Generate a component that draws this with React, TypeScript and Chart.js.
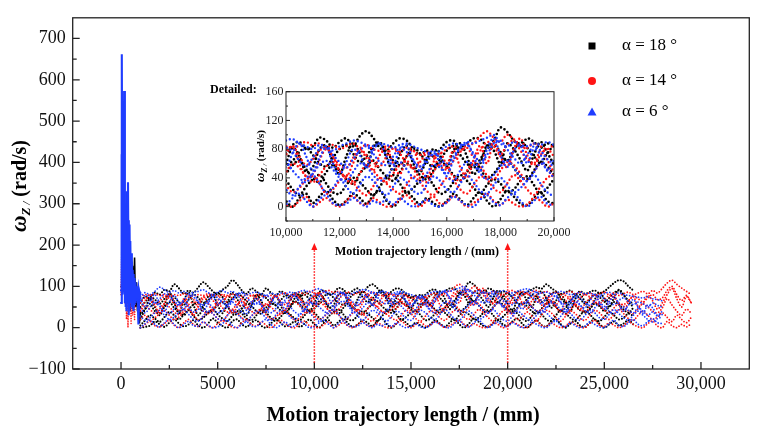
import { useEffect, useRef } from 'react'
import { Chart, registerables } from 'chart.js'

Chart.register(...registerables)

const FONT = "'Liberation Serif', 'Times New Roman', serif"

const X_TICKS = [0, 5000, 10000, 15000, 20000, 25000, 30000]
const X_MINOR = [2500, 7500, 12500, 17500, 22500, 27500]
const Y_TICKS = [-100, 0, 100, 200, 300, 400, 500, 600, 700]
const Y_MINOR = [-50, 50, 150, 250, 350, 450, 550, 650]
const INSET_X_TICKS = [10000, 12000, 14000, 16000, 18000, 20000]
const INSET_X_MINOR = [11000, 13000, 15000, 17000, 19000]
const INSET_Y_TICKS = [0, 40, 80, 120, 160]
const INSET_Y_MINOR = [-20, 20, 60, 100, 140]

const LABELS = ['α = 18 °', 'α = 14 °', 'α = 6 °']
const COLORS = ['#000000', '#ff1414', '#1f3dff']

// red dotted arrows pointing at the zoomed window
const ARROW_X = [10000, 20000]
const ARROW_FROM = -85
const ARROW_TO = 205

// first metre of the trajectory
const SPIKE_X = [0, 40, 80, 120, 160, 200, 240, 280, 320, 360, 400, 440, 480, 520, 560, 600, 650, 700, 750, 800, 850, 900, 950, 1000]
const SPIKE_BLACK = [100, 150, 120, 170, 140, 190, 110, 160, 60, 150, 90, 130, 40, 120, 70, 150, 60, 170, 50, 110, 40, 90, 10, 40]
const SPIKE_RED = [80, 200, 570, 100, 326, 60, 250, 20, 150, 0, 180, 40, 120, 10, 90, 30, 70, 20, 80, 75, 60, 80, 70, 75]
const SPIKE_BLUE = [60, 662, 80, 120, 573, 60, 300, 40, 200, 352, 30, 250, 60, 180, 50, 140, 40, 120, 60, 100, 70, 95, 75, 85]
const SPIKE_BLUE_2 = [90, 420, 150, 500, 90, 280, 50, 330, 120, 60, 260, 40, 210, 70, 160, 45, 130, 55, 110, 65, 90, 8, 88, 80]

// steady part, one value every 250 mm from 1000 mm
const START = 1000
const STEP = 250

const BLACK_A = [60, 75, 70, 85, 80, 92, 88, 105, 95, 82, 90, 85, 98, 110, 100, 88, 80, 92, 100, 115, 105, 90, 82, 95, 88, 80, 95, 85, 78, 88, 82, 76, 84, 78, 86, 80, 74, 86, 90, 80, 84, 96, 92, 82, 90, 95, 84, 98, 105, 96, 82, 78, 88, 95, 92, 80, 72, 78, 70, 80, 90, 92, 80, 88, 95, 94, 85, 92, 110, 104, 92, 84, 95, 90, 82, 88, 84, 76, 88, 80, 86, 92, 98, 94, 105, 96, 88, 82, 86, 90, 80, 88, 82, 86, 90, 84, 88, 98, 108, 115, 112, 100, 90]
const BLACK_B = [50, 62, 75, 68, 58, 70, 82, 74, 62, 55, 68, 80, 72, 60, 66, 78, 85, 74, 62, 70, 82, 76, 64, 58, 70, 80, 72, 60, 55, 66, 78, 70, 62, 74, 80, 68, 58, 64, 76, 82, 72, 60, 56, 68, 80, 86, 74, 62, 70, 84, 88, 76, 64, 58, 70, 82, 74, 62, 56, 66, 78, 84, 72, 60, 54, 66, 80, 86, 76, 64, 78, 90, 82, 70, 62, 74, 84, 72, 60, 56, 68, 80, 74, 62, 70, 82, 86, 72, 60, 66, 78, 70, 58, 68, 80, 74, 62, 72, 84, 90, 78, 66, 58]
const BLACK_C = [30, 45, 58, 40, 35, 50, 62, 48, 38, 30, 44, 56, 60, 48, 36, 42, 55, 62, 50, 38, 32, 46, 58, 52, 40, 34, 48, 60, 54, 42, 36, 50, 62, 56, 44, 38, 46, 58, 64, 52, 40, 34, 48, 58, 50, 38, 32, 46, 56, 64, 52, 42, 36, 48, 60, 54, 44, 38, 50, 62, 56, 44, 36, 48, 60, 52, 40, 46, 58, 66, 54, 42, 38, 50, 62, 56, 44, 36, 48, 60, 52, 40, 34, 46, 58, 64, 50, 40, 48, 60, 54, 42, 36, 46, 58, 52, 40, 50, 62, 56, 44, 36, 48]
const BLACK_D = [5, 18, 30, 22, 14, 26, 38, 30, 20, 32, 42, 28, 18, 24, 36, 44, 32, 22, 16, 28, 40, 34, 22, 18, 30, 42, 36, 24, 16, 26, 38, 32, 22, 18, 30, 42, 36, 24, 16, 28, 38, 44, 32, 20, 18, 30, 40, 34, 24, 16, 28, 40, 44, 32, 20, 26, 36, 42, 30, 18, 22, 34, 44, 36, 26, 18, 30, 38, 32, 20, 24, 36, 42, 30, 18, 26, 38, 44, 34, 22, 16, 28, 40, 32, 20, 16, 30, 42, 34, 24, 18, 30, 40, 32, 20, 16, 26, 38, 30, 20, 24, 34, 28]
const BLACK_E = [0, 2, 5, 15, 8, 2, 12, 20, 10, 3, 8, 18, 5, 0, 10, 22, 12, 4, 0, 15, 20, 8, 2, 12, 18, 5, 0, 10, 22, 12, 3, 8, 15, 2, 10, 20, 8, 0, 12, 18, 5, 14, 22, 10, 2, 8, 18, 12, 4, 15, 22, 8, 0, 10, 20, 12, 3, 12, 5, 0, 8, 18, 10, 2, 12, 20, 8, 0, 10, 22, 14, 4, 2, 12, 20, 8, 5, 15, 22, 10, 0, 10, 18, 6, 3, 14, 20, 8, 0, 10, 16, 5, 2, 12, 20, 9, 0, 8, 15, 5, 10, 18, 8]
const BLACK_F = [20, 45, 70, 50, 30, 55, 80, 60, 35, 65, 85, 55, 30, 50, 75, 80, 55, 35, 60, 85, 70, 45, 30, 55, 80, 65, 40, 60, 78, 55, 35, 50, 72, 80, 55, 40, 60, 82, 70, 48, 55, 80, 85, 62, 45, 70, 88, 75, 55, 80, 90, 68, 50, 72, 85, 60, 48, 65, 80, 70, 55, 78, 88, 70, 45, 60, 85, 78, 60, 88, 80, 65, 50, 72, 90, 75, 58, 40, 70, 85, 65, 50, 75, 88, 70, 48, 65, 82, 60, 40, 70, 80, 62, 45, 68, 85, 70, 50, 72, 92, 80, 62, 50]

const RED_A = [75, 80, 78, 82, 78, 80, 76, 80, 78, 82, 79, 77, 80, 78, 82, 79, 77, 80, 78, 81, 79, 76, 80, 78, 80, 77, 75, 78, 76, 80, 84, 78, 82, 86, 80, 88, 84, 80, 86, 90, 85, 88, 82, 86, 80, 84, 88, 82, 86, 80, 78, 84, 80, 76, 82, 78, 72, 76, 70, 74, 80, 84, 78, 86, 88, 98, 105, 96, 90, 100, 94, 85, 82, 88, 84, 80, 86, 90, 84, 88, 80, 86, 90, 84, 88, 82, 86, 80, 84, 88, 82, 86, 80, 84, 78, 82, 86, 80, 84, 78, 82, 86, 80, 84, 88, 82, 90, 84, 95, 108, 115, 105, 96, 88, 80]
const RED_B = [60, 72, 66, 56, 64, 76, 70, 58, 52, 62, 74, 68, 58, 70, 78, 66, 54, 64, 76, 72, 60, 52, 66, 78, 70, 58, 54, 68, 76, 64, 56, 70, 80, 72, 60, 66, 78, 84, 70, 58, 66, 78, 82, 70, 58, 54, 68, 80, 72, 62, 56, 70, 82, 74, 60, 54, 62, 74, 68, 56, 52, 64, 76, 82, 70, 78, 90, 84, 72, 86, 92, 78, 66, 58, 72, 80, 70, 60, 66, 78, 84, 72, 62, 68, 76, 64, 56, 70, 78, 68, 60, 72, 80, 74, 62, 58, 68, 78, 72, 60, 56, 66, 76, 70, 62, 72, 80, 68, 72, 90, 100, 80, 66, 78, 60]
const RED_C = [40, 52, 44, 34, 46, 58, 50, 38, 32, 44, 56, 62, 50, 40, 34, 46, 58, 48, 38, 44, 56, 64, 52, 40, 34, 46, 58, 50, 40, 32, 44, 56, 62, 52, 40, 36, 48, 60, 54, 42, 34, 44, 56, 62, 50, 38, 32, 46, 58, 50, 40, 34, 46, 58, 64, 52, 40, 34, 48, 60, 54, 42, 36, 50, 62, 56, 44, 38, 50, 62, 58, 46, 36, 48, 60, 52, 40, 34, 46, 58, 64, 52, 40, 44, 56, 62, 50, 38, 32, 44, 56, 48, 38, 50, 62, 54, 42, 36, 48, 58, 52, 40, 34, 46, 58, 50, 40, 36, 48, 70, 55, 40, 30, 45, 35]
const RED_D = [20, 30, 16, 24, 34, 42, 30, 20, 26, 38, 44, 32, 18, 28, 40, 34, 22, 16, 30, 42, 36, 24, 18, 28, 40, 44, 32, 20, 26, 36, 42, 30, 18, 24, 36, 44, 30, 20, 26, 38, 42, 32, 18, 24, 36, 44, 34, 22, 16, 28, 40, 32, 24, 18, 30, 42, 34, 22, 16, 28, 40, 36, 24, 18, 30, 42, 38, 26, 20, 32, 44, 36, 24, 16, 28, 40, 44, 32, 20, 26, 38, 28, 18, 30, 42, 36, 24, 16, 28, 40, 34, 22, 18, 30, 42, 36, 24, 20, 32, 44, 34, 22, 18, 30, 40, 30, 20, 26, 36, 25, 15, 30, 20, 12, 25]
const RED_E = [0, 8, 15, 5, 2, 10, 18, 6, 0, 12, 20, 8, 3, 14, 5, 0, 10, 18, 8, 2, 0, 12, 20, 8, 4, 15, 6, 0, 8, 18, 10, 2, 0, 10, 16, 5, 2, 0, 8, 14, 0, 6, 12, 4, 0, 8, 15, 5, 3, 12, 6, 0, 2, 10, 16, 6, 0, 8, 14, 4, 6, 15, 8, 0, 5, 12, 18, 8, 2, 10, 4, 0, 3, 12, 8, 0, 5, 14, 8, 2, 0, 10, 16, 6, 2, 12, 5, 0, 4, 14, 8, 2, 0, 10, 18, 6, 3, 12, 6, 0, 5, 14, 8, 2, 0, 10, 16, 4, 0, 15, 5, 0, 8, 2, 10]
const RED_F = [40, 65, 80, 55, 35, 60, 82, 65, 40, 70, 50, 30, 55, 75, 60, 40, 65, 80, 58, 35, 50, 72, 45, 60, 75, 55, 40, 62, 78, 60, 42, 65, 80, 70, 50, 60, 72, 85, 60, 42, 45, 65, 80, 70, 50, 42, 60, 78, 68, 50, 72, 80, 60, 45, 70, 78, 55, 40, 62, 75, 60, 78, 55, 40, 65, 85, 60, 90, 70, 55, 80, 95, 72, 60, 78, 65, 50, 70, 82, 60, 45, 65, 80, 55, 60, 78, 50, 40, 62, 75, 55, 42, 58, 72, 80, 60, 45, 65, 78, 55, 40, 62, 75, 52, 60, 78, 65, 45, 60, 80, 95, 70, 50, 75, 60]

const BLUE_A = [75, 85, 80, 88, 98, 92, 85, 90, 84, 88, 82, 86, 88, 92, 85, 80, 86, 90, 84, 88, 82, 86, 80, 84, 86, 82, 78, 84, 80, 84, 82, 86, 84, 88, 90, 86, 92, 94, 88, 84, 80, 86, 84, 78, 84, 88, 92, 90, 86, 84, 88, 86, 82, 86, 88, 84, 80, 76, 72, 78, 84, 88, 86, 90, 88, 92, 96, 100, 88, 84, 90, 86, 84, 88, 86, 90, 86, 84, 88, 92, 94, 90, 86, 84, 86, 82, 84, 88, 84, 80, 82, 86, 82, 84, 80, 78, 82, 86, 80, 84, 80, 78, 76, 74, 72, 75, 70, 68, 65]
const BLUE_B = [66, 78, 72, 60, 70, 82, 76, 64, 56, 68, 80, 74, 62, 54, 66, 78, 72, 60, 56, 68, 76, 84, 72, 62, 58, 66, 78, 70, 60, 56, 68, 80, 74, 64, 58, 70, 82, 76, 64, 56, 68, 80, 84, 72, 62, 54, 66, 78, 84, 74, 62, 58, 70, 82, 76, 64, 56, 62, 74, 68, 58, 70, 82, 86, 74, 62, 72, 88, 92, 80, 68, 60, 72, 84, 78, 66, 60, 56, 70, 82, 88, 76, 64, 58, 70, 80, 74, 62, 56, 66, 78, 72, 60, 54, 64, 76, 70, 60, 56, 66, 72, 64, 56, 62, 58, 50, 60, 54, 50]
const BLUE_C = [46, 36, 50, 60, 52, 40, 34, 46, 58, 62, 50, 38, 44, 56, 60, 48, 36, 42, 54, 62, 50, 38, 34, 48, 60, 54, 42, 36, 46, 58, 62, 50, 38, 32, 44, 56, 62, 50, 40, 34, 46, 58, 64, 52, 40, 36, 48, 60, 56, 44, 36, 42, 54, 62, 52, 40, 34, 46, 58, 54, 42, 36, 50, 62, 58, 46, 38, 44, 56, 64, 54, 42, 36, 48, 60, 52, 40, 34, 46, 58, 62, 50, 40, 36, 48, 60, 56, 44, 38, 50, 62, 54, 42, 36, 48, 58, 52, 40, 34, 44, 50, 42, 36, 48, 40, 30, 38, 28, 32]
const BLUE_D = [28, 18, 24, 36, 42, 30, 20, 26, 38, 44, 32, 20, 16, 28, 40, 34, 22, 18, 30, 42, 34, 22, 16, 28, 40, 36, 24, 18, 30, 42, 38, 26, 20, 32, 44, 36, 24, 16, 28, 40, 44, 32, 20, 26, 38, 28, 18, 30, 42, 36, 24, 16, 28, 40, 34, 22, 18, 30, 42, 36, 24, 20, 32, 44, 34, 22, 18, 30, 40, 30, 20, 26, 36, 44, 32, 20, 16, 28, 40, 32, 22, 18, 30, 42, 36, 24, 16, 28, 40, 34, 22, 18, 30, 42, 36, 24, 20, 32, 44, 34, 24, 18, 30, 40, 30, 20, 14, 22, 26]
const BLUE_E = [0, 10, 18, 8, 2, 12, 20, 8, 0, 8, 15, 5, 4, 14, 6, 0, 2, 10, 18, 6, 0, 8, 14, 4, 3, 12, 20, 8, 0, 6, 14, 2, 5, 15, 8, 0, 3, 12, 18, 8, 0, 10, 16, 5, 2, 4, 12, 6, 0, 8, 4, 10, 3, 12, 5, 0, 4, 10, 2, 0, 6, 14, 8, 2, 0, 10, 16, 6, 2, 12, 18, 8, 0, 8, 14, 4, 3, 12, 6, 0, 5, 14, 8, 2, 0, 10, 16, 6, 2, 12, 5, 0, 4, 14, 8, 2, 0, 10, 18, 6, 3, 12, 20, 8, 5, 15, 22, 12, 10]
const BLUE_F = [70, 50, 65, 80, 55, 40, 62, 78, 60, 45, 70, 82, 62, 40, 58, 75, 55, 70, 48, 65, 80, 60, 42, 58, 72, 55, 38, 60, 75, 62, 45, 68, 80, 58, 40, 62, 55, 75, 88, 70, 50, 68, 82, 60, 45, 62, 80, 72, 55, 78, 88, 70, 58, 80, 85, 65, 50, 68, 78, 60, 45, 65, 82, 88, 70, 50, 80, 95, 72, 55, 78, 85, 60, 80, 72, 50, 65, 80, 60, 45, 62, 78, 85, 65, 48, 65, 78, 60, 42, 60, 75, 55, 48, 65, 80, 62, 45, 62, 75, 58, 40, 55, 68, 50, 35, 55, 48, 30, 40]

const STRANDS = [
  [BLACK_A, BLACK_B, BLACK_C, BLACK_D, BLACK_E, BLACK_F],
  [RED_A, RED_B, RED_C, RED_D, RED_E, RED_F],
  [BLUE_A, BLUE_B, BLUE_C, BLUE_D, BLUE_E, BLUE_F],
]
const SPIKES = [[SPIKE_BLACK], [SPIKE_RED], [SPIKE_BLUE, SPIKE_BLUE_2]]

function onGrid(ys: number[]) {
  return ys.map((y, i) => ({ x: START + i * STEP, y }))
}

function makeDatasets(inset: boolean) {
  const sets: any[] = []
  STRANDS.forEach((group, s) => {
    group.forEach((ys) => {
      sets.push({
        data: onGrid(ys),
        borderColor: COLORS[s],
        borderWidth: inset ? (s === 0 ? 2.7 : 2.4) : s === 0 ? 2.1 : 1.8,
        borderDash: inset ? [0, 4] : [0, 3],
        borderCapStyle: 'round',
        pointRadius: 0,
        tension: 0.35,
        fill: false,
        order: 3 - s,
      })
    })
    if (!inset) {
      SPIKES[s].forEach((ys) => {
        sets.push({
          data: ys.map((y, i) => ({ x: SPIKE_X[i], y })),
          borderColor: COLORS[s],
          borderWidth: s === 2 ? 2.1 : 1.6,
          borderDash: s === 1 ? [0, 2.5] : [],
          borderCapStyle: 'round',
          pointRadius: 0,
          tension: 0,
          fill: false,
          order: 3 - s,
        })
      })
    }
  })
  return sets
}

type Part = { text: string; font: string; dy: number }

function drawRich(ctx: CanvasRenderingContext2D, parts: Part[], x: number, y: number, rotate: boolean) {
  ctx.save()
  ctx.translate(x, y)
  if (rotate) ctx.rotate(-Math.PI / 2)
  let total = 0
  for (const p of parts) {
    ctx.font = p.font
    total += ctx.measureText(p.text).width
  }
  let cx = -total / 2
  ctx.textAlign = 'left'
  ctx.textBaseline = 'alphabetic'
  ctx.fillStyle = '#000'
  for (const p of parts) {
    ctx.font = p.font
    ctx.fillText(p.text, cx, p.dy)
    cx += ctx.measureText(p.text).width
  }
  ctx.restore()
}

function drawFrame(chart: any, major: number, minor: number, xt: number[], xm: number[], yt: number[], ym: number[], lw: number) {
  const { ctx, chartArea, scales } = chart
  const { left, right, top, bottom } = chartArea
  ctx.save()
  ctx.strokeStyle = '#222'
  ctx.lineWidth = lw
  ctx.strokeRect(left, top, right - left, bottom - top)
  ctx.beginPath()
  xt.forEach((v) => {
    const px = scales.x.getPixelForValue(v)
    ctx.moveTo(px, bottom)
    ctx.lineTo(px, bottom - major)
  })
  xm.forEach((v) => {
    const px = scales.x.getPixelForValue(v)
    ctx.moveTo(px, bottom)
    ctx.lineTo(px, bottom - minor)
  })
  yt.forEach((v) => {
    const py = scales.y.getPixelForValue(v)
    ctx.moveTo(left, py)
    ctx.lineTo(left + major, py)
  })
  ym.forEach((v) => {
    const py = scales.y.getPixelForValue(v)
    ctx.moveTo(left, py)
    ctx.lineTo(left + minor, py)
  })
  ctx.stroke()
  ctx.restore()
}

const mainDecor = {
  id: 'mainDecor',
  afterDraw(chart: any) {
    const { ctx, scales } = chart
    drawFrame(chart, 7, 4, X_TICKS, X_MINOR, Y_TICKS, Y_MINOR, 1.3)

    // arrows
    ctx.save()
    ctx.strokeStyle = '#ff1414'
    ctx.fillStyle = '#ff1414'
    ctx.lineWidth = 1.5
    ARROW_X.forEach((v) => {
      const px = scales.x.getPixelForValue(v)
      const y0 = scales.y.getPixelForValue(ARROW_FROM)
      const y1 = scales.y.getPixelForValue(ARROW_TO)
      ctx.setLineDash([1.5, 1.5])
      ctx.beginPath()
      ctx.moveTo(px, y0)
      ctx.lineTo(px, y1 + 6)
      ctx.stroke()
      ctx.setLineDash([])
      ctx.beginPath()
      ctx.moveTo(px, y1)
      ctx.lineTo(px - 3, y1 + 7)
      ctx.lineTo(px + 3, y1 + 7)
      ctx.closePath()
      ctx.fill()
    })
    ctx.restore()

    // legend
    ctx.save()
    const lx = 592
    const ly = [46, 81, 112]
    ctx.fillStyle = COLORS[0]
    ctx.fillRect(lx - 3.5, ly[0] - 3.5, 7, 7)
    ctx.fillStyle = COLORS[1]
    ctx.beginPath()
    ctx.arc(lx, ly[1], 4, 0, Math.PI * 2)
    ctx.fill()
    ctx.fillStyle = COLORS[2]
    ctx.beginPath()
    ctx.moveTo(lx, ly[2] - 4.5)
    ctx.lineTo(lx - 4.5, ly[2] + 3.5)
    ctx.lineTo(lx + 4.5, ly[2] + 3.5)
    ctx.closePath()
    ctx.fill()
    ctx.fillStyle = '#000'
    ctx.font = `17px ${FONT}`
    ctx.textAlign = 'left'
    ctx.textBaseline = 'middle'
    LABELS.forEach((t, i) => ctx.fillText(t, 622, ly[i]))
    ctx.restore()

    // axis titles
    drawRich(ctx, [{ text: 'Motion trajectory length / (mm)', font: `bold 20px ${FONT}`, dy: 0 }], 403, 421, false)
    drawRich(
      ctx,
      [
        { text: 'ω', font: `italic bold 23px ${FONT}`, dy: 0 },
        { text: 'Z', font: `italic bold 13px ${FONT}`, dy: 4 },
        { text: ' /', font: `italic 11px ${FONT}`, dy: 4 },
        { text: ' (rad/s)', font: `bold 20px ${FONT}`, dy: 0 },
      ],
      26,
      186,
      true
    )
  },
}

const insetDecor = {
  id: 'insetDecor',
  afterDraw(chart: any) {
    const { ctx } = chart
    drawFrame(chart, 4, 2, INSET_X_TICKS, INSET_X_MINOR, INSET_Y_TICKS, INSET_Y_MINOR, 1)
    ctx.save()
    ctx.fillStyle = '#000'
    ctx.font = `bold 12px ${FONT}`
    ctx.textAlign = 'left'
    ctx.textBaseline = 'alphabetic'
    ctx.fillText('Detailed:', 15, 14.5)
    ctx.restore()
    drawRich(ctx, [{ text: 'Motion trajectory length / (mm)', font: `bold 12px ${FONT}`, dy: 0 }], 222, 177, false)
    drawRich(
      ctx,
      [
        { text: 'ω', font: `italic bold 13px ${FONT}`, dy: 0 },
        { text: 'Z', font: `italic bold 8px ${FONT}`, dy: 2.5 },
        { text: ' /', font: `italic 7px ${FONT}`, dy: 2.5 },
        { text: ' (rad/s)', font: `bold 11px ${FONT}`, dy: 0 },
      ],
      69,
      78,
      true
    )
  },
}

function fmtX(v: number) {
  return v === 5000 || v === 0 ? String(v) : v.toLocaleString('en-US')
}

export default function App() {
  const mainRef = useRef<HTMLCanvasElement>(null)
  const insetRef = useRef<HTMLCanvasElement>(null)

  useEffect(() => {
    if (!mainRef.current || !insetRef.current) return

    const main = new Chart(mainRef.current, {
      type: 'line',
      data: { datasets: makeDatasets(false) },
      options: {
        responsive: true,
        maintainAspectRatio: false,
        animation: false,
        events: [],
        layout: { padding: { top: 10.7, right: 9.7, left: 0, bottom: 0 } },
        plugins: { legend: { display: false }, tooltip: { enabled: false } },
        scales: {
          x: {
            type: 'linear',
            min: -2500,
            max: 32500,
            grid: { display: false, drawTicks: false },
            border: { display: false },
            afterBuildTicks: (axis: any) => {
              axis.ticks = X_TICKS.map((value) => ({ value }))
            },
            afterFit: (axis: any) => {
              axis.height = 64
            },
            ticks: {
              padding: 4,
              color: '#111',
              font: { family: FONT, size: 18 },
              maxRotation: 0,
              callback: (v: any) => fmtX(Number(v)),
            },
          },
          y: {
            type: 'linear',
            min: -100,
            max: 750,
            grid: { display: false, drawTicks: false },
            border: { display: false },
            afterBuildTicks: (axis: any) => {
              axis.ticks = Y_TICKS.map((value) => ({ value }))
            },
            afterFit: (axis: any) => {
              axis.width = 72.7
            },
            ticks: {
              padding: 7,
              color: '#111',
              font: { family: FONT, size: 18 },
              callback: (v: any) => (Number(v) < 0 ? '−' + Math.abs(Number(v)) : String(v)),
            },
          },
        },
      },
      plugins: [mainDecor],
    })

    const inset = new Chart(insetRef.current, {
      type: 'line',
      data: { datasets: makeDatasets(true) },
      options: {
        responsive: true,
        maintainAspectRatio: false,
        animation: false,
        events: [],
        layout: { padding: { top: 13.7, right: 26, left: 0, bottom: 0 } },
        plugins: { legend: { display: false }, tooltip: { enabled: false } },
        scales: {
          x: {
            type: 'linear',
            min: 10000,
            max: 20000,
            grid: { display: false, drawTicks: false },
            border: { display: false },
            afterBuildTicks: (axis: any) => {
              axis.ticks = INSET_X_TICKS.map((value) => ({ value }))
            },
            afterFit: (axis: any) => {
              axis.height = 41
            },
            ticks: {
              padding: 5,
              color: '#222',
              font: { family: FONT, size: 12 },
              maxRotation: 0,
              callback: (v: any) => Number(v).toLocaleString('en-US'),
            },
          },
          y: {
            type: 'linear',
            min: -20,
            max: 160,
            grid: { display: false, drawTicks: false },
            border: { display: false },
            afterBuildTicks: (axis: any) => {
              axis.ticks = INSET_Y_TICKS.map((value) => ({ value }))
            },
            afterFit: (axis: any) => {
              axis.width = 91
            },
            ticks: {
              padding: 2.5,
              color: '#222',
              font: { family: FONT, size: 12 },
            },
          },
        },
      },
      plugins: [insetDecor],
    })

    return () => {
      main.destroy()
      inset.destroy()
    }
  }, [])

  return (
    <div style={{ position: 'fixed', left: 0, top: 0, width: 759, height: 433, background: '#fff' }}>
      <div style={{ position: 'absolute', left: 0, top: 0, width: 759, height: 433 }}>
        <canvas ref={mainRef} />
      </div>
      <div style={{ position: 'absolute', left: 195, top: 78, width: 385, height: 184 }}>
        <canvas ref={insetRef} />
      </div>
    </div>
  )
}
